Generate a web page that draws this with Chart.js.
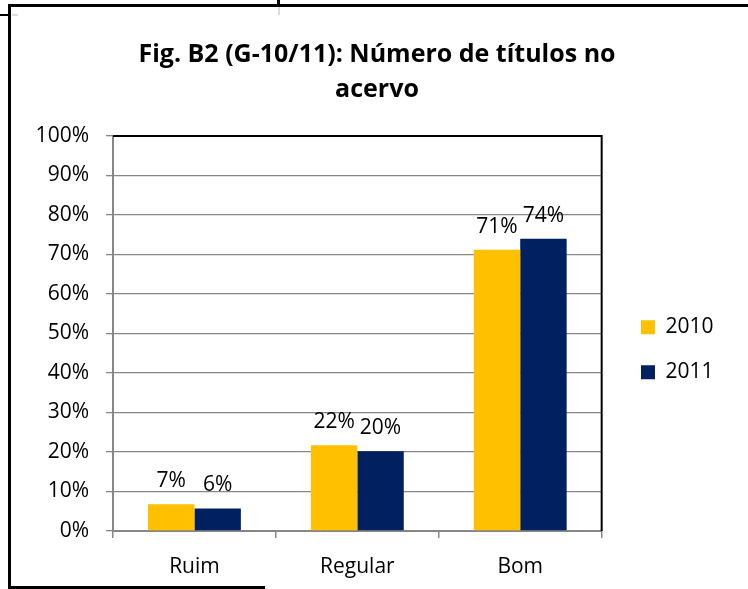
<!DOCTYPE html>
<html>
<head>
<meta charset="utf-8">
<script src="https://cdn.jsdelivr.net/npm/chart.js@4.4.1/dist/chart.umd.min.js"></script>
<style>
  html, body { margin: 0; padding: 0; background: #fff; }
  #wrap { position: relative; width: 748px; height: 589px; background: #fff; overflow: hidden; }
  #c { position: absolute; left: 0; top: 0; }
  .ln { position: absolute; background: #000; }
  .lg { position: absolute; background: #dcdcdc; }
</style>
</head>
<body>
<div id="wrap">
  <canvas id="c" width="748" height="589"></canvas>
  <div class="ln" style="left:9px;top:4px;width:739px;height:3px;"></div>
  <div class="ln" style="left:8px;top:4px;width:3px;height:585px;"></div>
  <div class="ln" style="left:0px;top:14px;width:9px;height:2px;"></div>
  <div class="lg" style="left:12px;top:14px;width:6px;height:2px;"></div>
  <div class="ln" style="left:277px;top:0px;width:3px;height:5px;"></div>
  <div class="lg" style="left:278px;top:7px;width:2px;height:8px;"></div>
  <div class="ln" style="left:8px;top:586px;width:257px;height:3px;"></div>
</div>
<script>
const titleLines = ['Fig. B2 (G-10/11): Número de títulos no', 'acervo'];
const categories = ['Ruim', 'Regular', 'Bom'];
const seriesNames = ['2010', '2011'];
const values2010 = [6.8, 21.7, 71.2];
const values2011 = [5.7, 20.2, 74.0];
const yTickLabels = ['0%', '10%', '20%', '30%', '40%', '50%', '60%', '70%', '80%', '90%', '100%'];

const FONT = "'Open Sans', 'Noto Sans', sans-serif";
const GRID = '#878787';
const FS = 21;

const valueLabels = {
  id: 'valueLabels',
  afterDatasetsDraw(chart) {
    const ctx = chart.ctx;
    ctx.save();
    ctx.font = FS + 'px ' + FONT;
    ctx.fillStyle = '#000';
    ctx.textAlign = 'center';
    ctx.textBaseline = 'alphabetic';
    chart.data.datasets.forEach((ds, i) => {
      const meta = chart.getDatasetMeta(i);
      meta.data.forEach((bar, j) => {
        ctx.fillText(Math.round(ds.data[j]) + '%', bar.x, bar.y - 17);
      });
    });
    ctx.restore();
  }
};

const plotBorder = {
  id: 'plotBorder',
  afterDraw(chart) {
    const a = chart.chartArea;
    const ctx = chart.ctx;
    ctx.save();
    ctx.strokeStyle = '#000';
    ctx.lineWidth = 2;
    ctx.beginPath();
    ctx.moveTo(a.left, a.top);
    ctx.lineTo(a.right, a.top);
    ctx.lineTo(a.right, a.bottom);
    ctx.stroke();
    ctx.restore();
  }
};

new Chart(document.getElementById('c'), {
  type: 'bar',
  data: {
    labels: categories,
    datasets: [
      { label: seriesNames[0], data: values2010, backgroundColor: '#FFC000', borderWidth: 0 },
      { label: seriesNames[1], data: values2011, backgroundColor: '#002060', borderWidth: 0 }
    ]
  },
  options: {
    responsive: false,
    animation: false,
    devicePixelRatio: 1,
    layout: { padding: { left: 30.5, right: 24.5, top: 0, bottom: 0 } },
    datasets: { bar: { categoryPercentage: 0.57, barPercentage: 1.0 } },
    scales: {
      x: {
        grid: { offset: true, drawOnChartArea: false, drawTicks: true, tickLength: 7, color: GRID, lineWidth: 1.5 },
        border: { display: true, color: GRID, width: 2 },
        ticks: { color: '#000', font: { family: FONT, size: FS }, padding: 16 },
        afterFit(s) { s.height = 58; }
      },
      y: {
        min: 0, max: 100,
        grid: { color: GRID, lineWidth: 1.3, drawTicks: true, tickLength: 7 },
        border: { display: true, color: GRID, width: 2 },
        ticks: {
          stepSize: 10, color: '#000', font: { family: FONT, size: FS }, padding: 17,
          callback: (v, i) => yTickLabels[i]
        },
        afterFit(s) { s.width = 82.5; }
      },
      yGap: {
        type: 'linear', position: 'right', display: true,
        grid: { display: false, drawTicks: false },
        border: { display: false },
        ticks: { display: false },
        afterFit(s) { s.width = 15.3; }
      }
    },
    plugins: {
      title: {
        display: true,
        text: titleLines,
        color: '#000',
        font: { family: FONT, size: 25, weight: 'bold', lineHeight: 1.4 },
        padding: { top: 37, bottom: 29 }
      },
      legend: {
        position: 'right',
        fullSize: false,
        align: 'center',
        title: { display: true, text: ' ', font: { size: 12, lineHeight: 1.2 }, padding: { top: 9, bottom: 9 } },
        labels: { boxWidth: 14, boxHeight: 14, padding: 24, color: '#000', font: { family: FONT, size: FS } }
      },
      tooltip: { enabled: false }
    }
  },
  plugins: [valueLabels, plotBorder]
});
</script>
</body>
</html>
